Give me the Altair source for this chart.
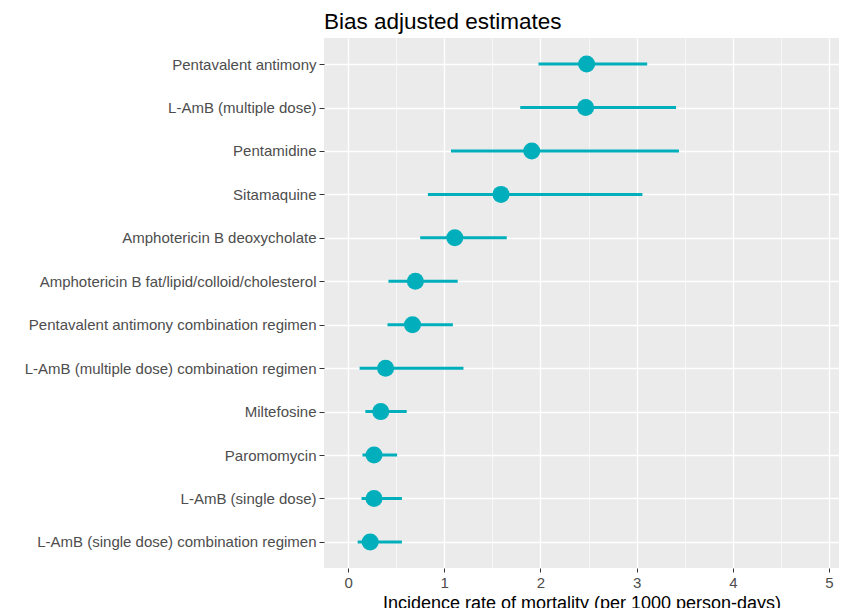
import altair as alt
import pandas as pd

drugs = [
    "Pentavalent antimony",
    "L-AmB (multiple dose)",
    "Pentamidine",
    "Sitamaquine",
    "Amphotericin B deoxycholate",
    "Amphotericin B fat/lipid/colloid/cholesterol",
    "Pentavalent antimony combination regimen",
    "L-AmB (multiple dose) combination regimen",
    "Miltefosine",
    "Paromomycin",
    "L-AmB (single dose)",
    "L-AmB (single dose) combination regimen",
]
estimate = [2.48, 2.47, 1.91, 1.59, 1.11, 0.70, 0.67, 0.39, 0.34, 0.27, 0.27, 0.23]
lower = [1.98, 1.79, 1.07, 0.83, 0.75, 0.42, 0.41, 0.12, 0.18, 0.15, 0.14, 0.10]
upper = [3.11, 3.41, 3.44, 3.06, 1.65, 1.14, 1.09, 1.20, 0.61, 0.51, 0.56, 0.56]
x_ticks = [0, 0.5, 1, 1.5, 2, 2.5, 3, 3.5, 4, 4.5, 5]

df = pd.DataFrame({"drug": drugs, "est": estimate, "lo": lower, "hi": upper})

COLOR = "#00AFBB"
X_TITLE = "Incidence rate of mortality (per 1000 person-days)"

y_enc = alt.Y(
    "drug:N",
    sort=drugs,
    title=None,
    scale=alt.Scale(type="point", padding=0.6),
    axis=alt.Axis(
        labelFontSize=15,
        labelColor="#4D4D4D",
        labelPadding=3,
        tickSize=5,
        tickColor="#333333",
        tickWidth=1,
        domain=False,
        grid=True,
        gridColor="white",
        gridWidth=1.3,
        labelLimit=400,
    ),
)

x_scale = alt.Scale(domain=[-0.25, 5.104], nice=False, zero=False)
x_axis = alt.Axis(
    values=x_ticks,
    labelExpr="datum.value % 1 === 0 ? format(datum.value, 'd') : ''",
    labelFontSize=15,
    labelColor="#4D4D4D",
    labelPadding=3,
    tickSize=4,
    tickColor="#333333",
    tickWidth=1,
    tickOpacity={"condition": {"test": "datum.value % 1 === 0", "value": 1}, "value": 0},
    domain=False,
    grid=True,
    gridColor="white",
    gridWidth={"condition": {"test": "datum.value % 1 === 0", "value": 1.3}, "value": 0.6},
    titleFontSize=18,
    titleFontWeight="normal",
    titleColor="black",
    titlePadding=4,
)

base = alt.Chart(df)

rules = base.mark_rule(color=COLOR, strokeWidth=3).encode(
    x=alt.X("lo:Q", scale=x_scale, axis=x_axis, title=X_TITLE),
    x2="hi:Q",
    y=y_enc,
)

points = base.mark_point(filled=True, color=COLOR, opacity=1, size=290).encode(
    x=alt.X("est:Q", scale=x_scale, axis=x_axis, title=X_TITLE),
    y=y_enc,
)

chart = (
    alt.layer(rules, points)
    .properties(
        width=515,
        height=530,
        autosize=alt.AutoSizeParams(type="none"),
        padding={"left": 316, "top": 30, "right": 0, "bottom": 40},
        title=alt.TitleParams(
            "Bias adjusted estimates",
            anchor="start",
            frame="group",
            fontSize=22.5,
            fontWeight="normal",
            color="black",
            offset=5,
        ),
    )
    .configure(font="Liberation Sans")
    .configure_view(fill="#EBEBEB", stroke=None)
)

chart.save("out.html", embed_options={"renderer": "svg", "actions": False})
